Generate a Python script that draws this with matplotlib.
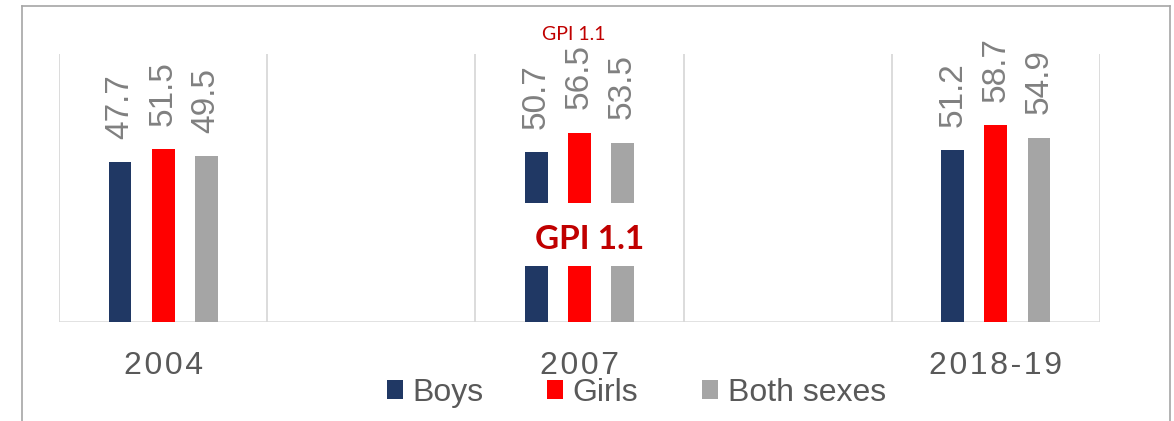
import matplotlib
matplotlib.use('Agg')
import matplotlib.pyplot as plt
from matplotlib.patches import Rectangle, Patch
from matplotlib.lines import Line2D
import numpy as np

years = ['2004', '2007', '2018-19']
boys = [47.7, 50.7, 51.2]
girls = [51.5, 56.5, 58.7]
both = [49.5, 53.5, 54.9]
series_names = ['Boys', 'Girls', 'Both sexes']
gpi_text = 'GPI 1.1'

colors = ['#203864', '#ff0000', '#a5a5a5']
hair = '\u200a'

fig = plt.figure(figsize=(11.74, 4.21), dpi=100)
ax = fig.add_axes([59/1174, 99/421, 1041/1174, 268/421])

pos = np.arange(len(years)) * 2
width = 0.11
step = 0.207
for i, (vals, c) in enumerate(zip([boys, girls, both], colors)):
    x = pos + (i - 1) * step
    ax.bar(x, vals, width=width, color=c, zorder=2)
    for xi, v in zip(x, vals):
        ax.annotate('%.1f' % v, (xi, v), xytext=(0, 17), textcoords='offset points',
                    rotation=90, ha='center', va='bottom', fontsize=24,
                    color='#808080', family='Liberation Sans')

ax.set_xlim(-0.5, 4.5)
ax.set_ylim(0, 80)
for b in np.arange(-0.5, 5, 1):
    ax.axvline(b, color='#d9d9d9', lw=1.3, zorder=1)
ax.axhline(0, color='#d9d9d9', lw=1.8, zorder=1)
for s in ax.spines.values():
    s.set_visible(False)
ax.set_yticks([])
ax.set_xticks(pos)
ax.set_xticklabels([hair.join(y) for y in years], fontsize=23, color='#595959',
                   family=['Liberation Sans', 'DejaVu Sans'])
ax.tick_params(axis='x', length=0, pad=21)

# break in the 2007 bars with the GPI note
ax.add_patch(Rectangle((1.7, 16.8), 0.6, 18.6, facecolor='white', edgecolor='none', zorder=3))
ax.text(2.05, 24.6, gpi_text, ha='center', va='center', fontsize=24, fontweight='bold',
        color='#c00000', family='Lato', zorder=4)
ax.text(1.97, 85.8, gpi_text, ha='center', va='center', fontsize=14,
        color='#c00000', family='Lato', clip_on=False)

handles = [Patch(facecolor=c) for c in colors]
fig.legend(handles, series_names, loc='center', bbox_to_anchor=(0.542, 0.067), ncol=3,
           frameon=False, handlelength=0.5, handleheight=0.5,
           handletextpad=0.3, columnspacing=2.0, labelcolor='#595959',
           prop={'family': 'Liberation Sans', 'size': 23})

# outer frame
fc = '#a6a6a6'
x0, x1, yt = 22/1174, 1170/1174, 1 - 6/421
fig.add_artist(Line2D([x0, x0], [0, yt], color=fc, lw=1.2))
fig.add_artist(Line2D([x0, x1], [yt, yt], color=fc, lw=1.2))
fig.add_artist(Line2D([x1, x1], [0, yt], color=fc, lw=1.2))

fig.savefig('out.png', dpi=100)
